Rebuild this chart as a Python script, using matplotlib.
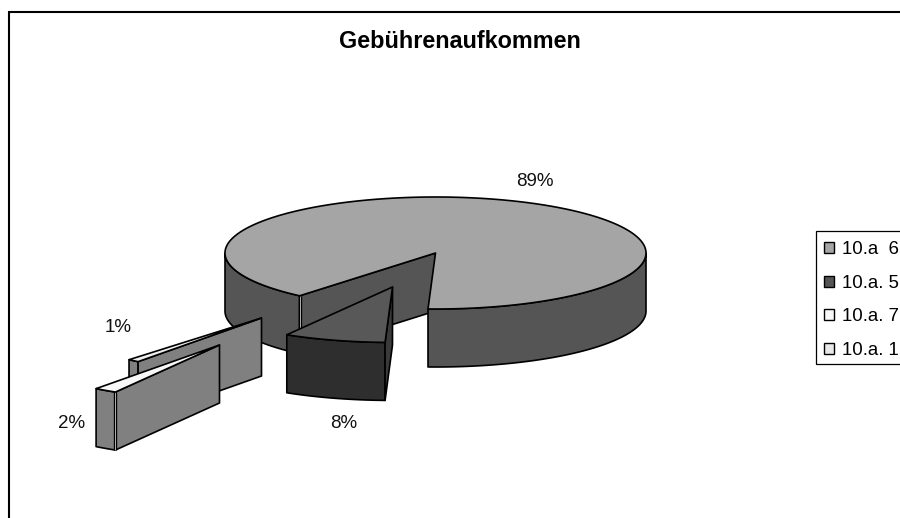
import numpy as np
import matplotlib
matplotlib.use("Agg")
import matplotlib.pyplot as plt
from matplotlib.patches import Polygon, Patch, Rectangle

# ---- data ----
title = "Gebührenaufkommen"
categories = ["10.a  6", "10.a. 5", "10.a. 7", "10.a. 1"]
shares = [89.4, 7.9, 1.8, 0.9]

# ---- style / layout (pixel coordinates of the axes) ----
plt.rcParams['font.family'] = ['Liberation Sans', 'DejaVu Sans']
W, H = 900, 518
CX, CY, RX, RY, DEPTH = 435.5, 253.0, 210.5, 56.0, 58.0
START = 229.8
offsets = [(0, 0), (-43, 34), (-216, 92), (-174, 65)]
scales = [1.0, 0.99, 0.975, 0.975]
top_cols = ['#a5a5a5', '#585858', '#f8f8f8', '#efefef']
outer_cols = ['#555555', '#2e2e2e', '#808080', '#808080']
cut_cols = ['#555555', '#3a3a3a', '#808080', '#808080']
legend_cols = ['#a5a5a5', '#555555', '#f8f8f8', '#e8e8e8']
label_pos = [(535, 181.8), (343.5, 423.2), (71.5, 423.8), (118.5, 327.8)]
EDGE = dict(edgecolor='black', linewidth=1.2, joinstyle='round')

fig = plt.figure(figsize=(W / 100, H / 100), dpi=100, facecolor='white')
ax = fig.add_axes([0, 0, 1, 1])
ax.set_xlim(0, W)
ax.set_ylim(H, 0)
ax.axis('off')


def arc(t0, t1, off, k=1.0, dz=0.0):
    th = np.linspace(t0, t1, max(int(abs(t1 - t0) * 2), 2))
    r = np.radians(th)
    return np.column_stack([CX + off[0] + k * RX * np.cos(r),
                            CY + off[1] - k * RY * np.sin(r) + dz])


def poly(points, color, z):
    ax.add_patch(Polygon(points, closed=True, facecolor=color, zorder=z, **EDGE))


def band(t0, t1, off, k, color, z):
    poly(np.vstack([arc(t0, t1, off, k), arc(t0, t1, off, k, DEPTH)[::-1]]), color, z)


def cut(theta, off, k, color, z):
    apex = (CX + off[0], CY + off[1])
    rim = arc(theta, theta, off, k)[0]
    poly([apex, rim, (rim[0], rim[1] + DEPTH), (apex[0], apex[1] + DEPTH)], color, z)


def double_edge(theta, off, k, z):
    # the doubled vertical edge where the rim meets the cut face
    rim = arc(theta, theta, off, k)[0]
    xs, ys = [rim[0], rim[0]], [rim[1], rim[1] + DEPTH]
    ax.plot(xs, ys, color='black', lw=2.4, solid_capstyle='butt', zorder=z)
    ax.plot(xs, ys, color='#b0b0b0', lw=0.7, solid_capstyle='butt', zorder=z + 0.01)


# slices run clockwise from START
ends = START - np.cumsum(shares) / sum(shares) * 360
starts = np.concatenate([[START], ends[:-1]])

# main slice
t0, t1 = starts[0], ends[0]
cut(t0, offsets[0], scales[0], cut_cols[0], 1.2)
band(180, t0, offsets[0], scales[0], outer_cols[0], 1.1)
band(t1 + 360, 360, offsets[0], scales[0], outer_cols[0], 1.3)
poly(np.vstack([[(CX, CY)], arc(t1 + 360, t0 + 360, offsets[0])]), top_cols[0], 1.4)
double_edge(t0, offsets[0], scales[0], 1.35)

# the 1 % slice, the 2 % slice, the 8 % slice, back to front
for i, z in ((3, 2), (2, 3), (1, 4)):
    off, k = offsets[i], scales[i]
    hi, lo = starts[i] % 360, ends[i] % 360
    band(lo, hi, off, k, outer_cols[i], z + 0.1)
    cut(hi, off, k, cut_cols[i], z + 0.2)
    poly(np.vstack([[(CX + off[0], CY + off[1])], arc(lo, hi, off, k)]), top_cols[i], z + 0.3)
    if i == 2:
        double_edge(hi, off, k, z + 0.25)

# percentage labels
for (x, y), s in zip(label_pos, shares):
    ax.text(x, y, f"{s:.0f}%", ha='center', va='center', fontsize=13.5, color='#111111', zorder=6)

ax.text(460, 41, title, ha='center', va='center', fontsize=16.8, fontweight='bold', color='black')

# outer frame: only left and top edges fall inside the picture
ax.plot([9, 9, W + 2], [H + 2, 12, 12], color='black', lw=1.5, solid_joinstyle='miter', zorder=7)

# legend box, running off the right edge of the picture
ax.add_patch(Rectangle((816, 230.7), 100, 133.3, facecolor='white', edgecolor='black',
                       linewidth=0.9, zorder=7.5))
handles = [Patch(facecolor=c, edgecolor='black', linewidth=1.0) for c in legend_cols]
leg = ax.legend(handles, categories, loc='upper left',
                bbox_to_anchor=(815.5 / W, 1 - 233.3 / H), bbox_transform=fig.transFigure,
                fontsize=13.4, frameon=False, borderpad=0.43, labelspacing=0.887,
                handlelength=0.54, handleheight=0.54, handletextpad=0.48,
                borderaxespad=0)
leg.set_zorder(8)

fig.savefig('out.png', dpi=100)
